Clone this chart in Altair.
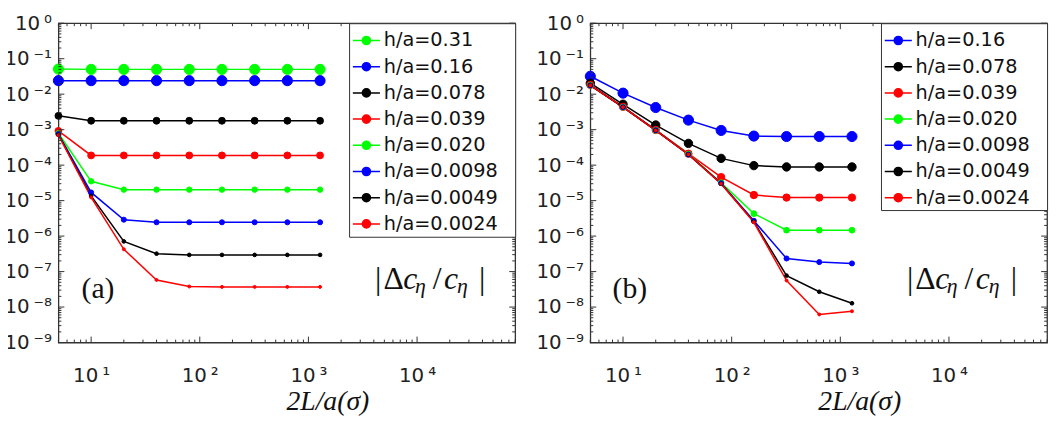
import altair as alt
import pandas as pd

# ---------------- data ----------------
x_vals = [5, 10, 20, 40, 80, 160, 320, 640, 1280]

# panel (a)
a_labels = ["h/a=0.31", "h/a=0.16", "h/a=0.078", "h/a=0.039",
            "h/a=0.020", "h/a=0.0098", "h/a=0.0049", "h/a=0.0024"]
a_colors = ["#00ff00", "#0000ff", "#000000", "#ff0000",
            "#00ff00", "#0000ff", "#000000", "#ff0000"]
a_sizes = [105, 105, 48, 48, 30, 26, 14, 9]
a_0_31 = [0.051, 0.050, 0.050, 0.050, 0.050, 0.050, 0.050, 0.050, 0.050]
a_0_16 = [0.024, 0.024, 0.024, 0.024, 0.024, 0.024, 0.024, 0.024, 0.024]
a_0_078 = [2.45e-3, 1.78e-3, 1.78e-3, 1.78e-3, 1.78e-3, 1.78e-3, 1.78e-3, 1.78e-3, 1.78e-3]
a_0_039 = [9.2e-4, 1.88e-4, 1.88e-4, 1.88e-4, 1.88e-4, 1.88e-4, 1.88e-4, 1.88e-4, 1.88e-4]
a_0_020 = [7.9e-4, 3.5e-5, 2.04e-5, 2.04e-5, 2.04e-5, 2.04e-5, 2.04e-5, 2.04e-5, 2.04e-5]
a_0_0098 = [7.5e-4, 1.7e-5, 2.9e-6, 2.45e-6, 2.45e-6, 2.45e-6, 2.45e-6, 2.45e-6, 2.45e-6]
a_0_0049 = [7.2e-4, 1.36e-5, 7.1e-7, 3.2e-7, 2.95e-7, 2.95e-7, 2.95e-7, 2.95e-7, 2.95e-7]
a_0_0024 = [7.0e-4, 1.23e-5, 4.25e-7, 5.8e-8, 3.8e-8, 3.7e-8, 3.7e-8, 3.7e-8, 3.7e-8]
a_series = [a_0_31, a_0_16, a_0_078, a_0_039, a_0_020, a_0_0098, a_0_0049, a_0_0024]

# panel (b)
b_labels = ["h/a=0.16", "h/a=0.078", "h/a=0.039", "h/a=0.020",
            "h/a=0.0098", "h/a=0.0049", "h/a=0.0024"]
b_colors = ["#0000ff", "#000000", "#ff0000", "#00ff00",
            "#0000ff", "#000000", "#ff0000"]
b_sizes = [105, 72, 55, 34, 26, 14, 9]
b_0_16 = [0.032, 0.0107, 4.2e-3, 1.86e-3, 9.5e-4, 6.6e-4, 6.4e-4, 6.4e-4, 6.4e-4]
b_0_078 = [0.0204, 5.2e-3, 1.35e-3, 4.1e-4, 1.55e-4, 9.7e-5, 8.9e-5, 8.9e-5, 8.9e-5]
b_0_039 = [0.0183, 4.4e-3, 9.8e-4, 2.1e-4, 4.6e-5, 1.44e-5, 1.22e-5, 1.22e-5, 1.22e-5]
b_0_020 = [0.0178, 4.3e-3, 9.6e-4, 2.05e-4, 3.2e-5, 4.3e-6, 1.47e-6, 1.47e-6, 1.47e-6]
b_0_0098 = [0.0177, 4.3e-3, 9.6e-4, 2.0e-4, 3.1e-5, 2.7e-6, 2.34e-7, 1.85e-7, 1.7e-7]
b_0_0049 = [0.0177, 4.3e-3, 9.6e-4, 2.0e-4, 3.0e-5, 2.55e-6, 7.7e-8, 2.7e-8, 1.28e-8]
b_0_0024 = [0.0176, 4.3e-3, 9.5e-4, 2.0e-4, 3.0e-5, 2.45e-6, 5.6e-8, 6.2e-9, 7.6e-9]
b_series = [b_0_16, b_0_078, b_0_039, b_0_020, b_0_0098, b_0_0049, b_0_0024]

# axis ticks
x_major = [10, 100, 1000, 10000]
x_tick_labels = ["10\u2009¹", "10\u2009²", "10\u2009³", "10\u2009⁴"]
y_major = [1, 1e-1, 1e-2, 1e-3, 1e-4, 1e-5, 1e-6, 1e-7, 1e-8, 1e-9]
y_tick_labels = ["10\u2009⁰", "10\u2009⁻¹", "10\u2009⁻²", "10\u2009⁻³", "10\u2009⁻⁴",
                 "10\u2009⁻⁵", "10\u2009⁻⁶", "10\u2009⁻⁷", "10\u2009⁻⁸", "10\u2009⁻⁹"]
X_DOMAIN = [5, 80000]
Y_DOMAIN = [1e-9, 1]

# ---------------- styling ----------------
W, H = 462, 323
FONT = "DejaVu Sans"
SERIF = "Liberation Serif"
FRAME = "#333333"

x_minor = []
for e in range(0, 5):
    for k in range(2, 10):
        v = k * 10 ** e
        if X_DOMAIN[0] <= v <= X_DOMAIN[1]:
            x_minor.append(v)
y_minor = []
for e in range(-9, 0):
    for k in range(2, 10):
        y_minor.append(k * 10.0 ** e)

x_label_expr = "[" + ",".join("'%s'" % s for s in x_tick_labels) + "][round(log(datum.value)/LN10)-1]"
y_label_expr = "[" + ",".join("'%s'" % s for s in y_tick_labels) + "][round(-log(datum.value)/LN10)]"

SYM = "M-1,0H1M0.3,0A0.3,0.3,0,1,1,-0.3,0A0.3,0.3,0,1,1,0.3,0Z"
PAD = "\u2800"

note_parts = [("|", 323.5, 0, 32, "normal"), ("Δ", 339, 0, 32, "normal"),
              ("c", 356, 0, 32, "italic"), ("η", 366, 4, 22, "italic"),
              ("/", 383, 0, 32, "normal"), ("c", 397, 0, 32, "italic"),
              ("η", 408.5, 4, 22, "italic"), ("|", 428.5, 0, 32, "normal")]


def make_df(labels, series, sizes):
    rows = []
    for lab, ys, sz in zip(labels, series, sizes):
        for xv, yv in zip(x_vals, ys):
            rows.append({"series": lab, "x": xv, "y": yv, "msize": sz})
    return pd.DataFrame(rows)


def panel(labels, colors, series, sizes, tag):
    df = make_df(labels, series, sizes)
    xs = alt.Scale(type="log", domain=X_DOMAIN, nice=False)
    ys = alt.Scale(type="log", domain=Y_DOMAIN, nice=False)

    x_lab = alt.Axis(orient="bottom", values=x_major, labelExpr=x_label_expr,
                     ticks=False, domain=False, grid=False, labelFont=FONT,
                     labelFontSize=20, labelColor="#222", labelPadding=23,
                     labelFlush=False, labelOverlap=False,
                     title="2L/a(σ)", titleFont=SERIF, titleFontStyle="italic",
                     titleFontWeight="normal", titleFontSize=28, titleColor="#111",
                     titleX=272, titleY=68, titleBaseline="alphabetic", titleAlign="center")
    y_lab = alt.Axis(orient="left", values=y_major, labelExpr=y_label_expr,
                     ticks=False, domain=False, grid=False, labelFont=FONT,
                     labelFontSize=20, labelColor="#222", labelPadding=7,
                     labelFlush=False, labelOverlap=False, title=None)

    leg = alt.Legend(orient="top-right", offset=0, title=None,
                     symbolType=SYM, symbolSize=750, symbolStrokeWidth=1.5,
                     labelFont=FONT, labelFontSize=19.5, labelColor="#111",
                     labelOffset=3, labelLimit=400, strokeColor=FRAME,
                     fillColor="white", padding=3, rowPadding=2.5,
                     labelExpr="datum.label + '" + PAD + "'")
    cscale = alt.Scale(domain=labels, range=colors)

    base = alt.Chart(df)
    lines = base.mark_line(strokeWidth=1.5).encode(
        x=alt.X("x:Q", scale=xs, axis=x_lab),
        y=alt.Y("y:Q", scale=ys, axis=y_lab),
        stroke=alt.Stroke("series:N", scale=cscale, legend=leg),
        order=alt.Order("x:Q"),
    )
    pts = base.mark_point(shape="circle", filled=True, strokeWidth=1, opacity=1).encode(
        x=alt.X("x:Q", scale=xs, axis=None),
        y=alt.Y("y:Q", scale=ys, axis=None),
        fill=alt.Fill("series:N", scale=cscale, legend=leg),
        stroke=alt.Stroke("series:N", scale=cscale, legend=leg),
        size=alt.Size("msize:Q", scale=None),
    )
    layers = [lines, pts]

    # inward tick marks on the four sides of the frame, placed by the scales
    for vals, ln in [(x_major, 6), (x_minor, 3)]:
        tdf = pd.DataFrame({"v": vals})
        for y0, y1 in [(H, H - ln), (0, ln)]:
            layers.append(alt.Chart(tdf).mark_rule(color=FRAME, strokeWidth=1).encode(
                x=alt.X("v:Q", scale=xs, axis=None),
                y=alt.value(y0), y2=alt.value(y1)))
    for vals, ln in [(y_major, 6), (y_minor, 3)]:
        tdf = pd.DataFrame({"v": vals})
        for x0, x1 in [(0, ln), (W, W - ln)]:
            layers.append(alt.Chart(tdf).mark_rule(color=FRAME, strokeWidth=1).encode(
                y=alt.Y("v:Q", scale=ys, axis=None),
                x=alt.value(x0), x2=alt.value(x1)))

    layers.append(alt.Chart(pd.DataFrame({"t": [tag]})).mark_text(
        align="center", baseline="alphabetic", font=SERIF, fontSize=30, color="#111"
    ).encode(text="t:N", x=alt.value(40), y=alt.value(278)))
    for txt, xc, dy, fs, style in note_parts:
        layers.append(alt.Chart(pd.DataFrame({"t": [txt]})).mark_text(
            align="center", baseline="alphabetic", font=SERIF, fontSize=fs,
            fontStyle=style, color="#111"
        ).encode(text="t:N", x=alt.value(xc), y=alt.value(269 + dy)))
    return alt.layer(*layers).resolve_axis(x="independent", y="independent").properties(
        width=W, height=H)


pa = panel(a_labels, a_colors, a_series, a_sizes, "(a)")
pb = panel(b_labels, b_colors, b_series, b_sizes, "(b)")

chart = alt.hconcat(pa, pb, spacing=76, bounds="flush").resolve_scale(
    fill="independent", stroke="independent"
).resolve_legend(fill="independent", stroke="independent").properties(
    padding={"left": -5, "top": 2, "right": 5, "bottom": 5}
).configure_view(stroke=FRAME, strokeWidth=1.3)

chart.save("out.html", embed_options={"renderer": "svg", "actions": False})
